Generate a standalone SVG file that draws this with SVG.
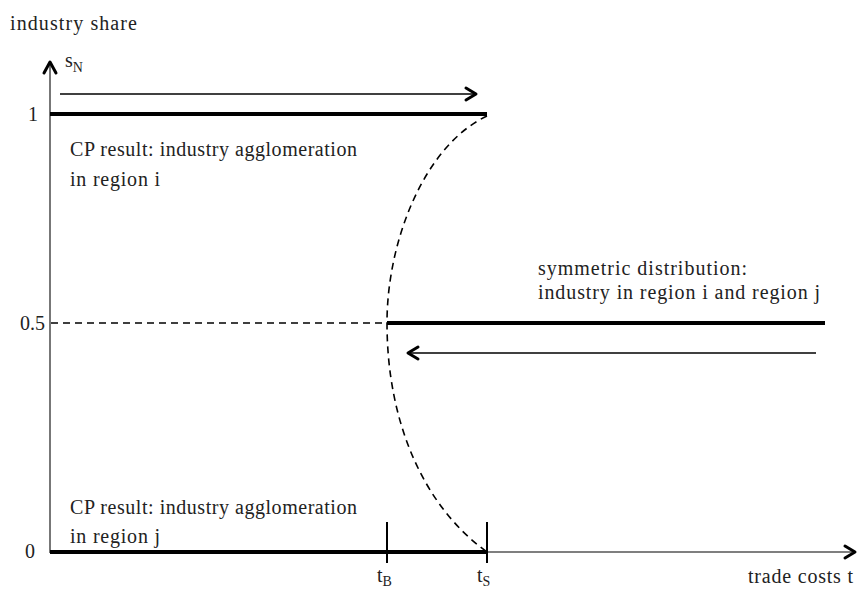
<svg xmlns="http://www.w3.org/2000/svg" width="858" height="590" viewBox="0 0 858 590">
<style>
text{font-family:"Liberation Serif","DejaVu Serif",serif;font-size:20px;fill:#222}
.sub{font-size:14px}
.axis{stroke:#555;stroke-width:1.6;fill:none}
.thick{stroke:#000;stroke-width:4;fill:none}
.thin{stroke:#000;stroke-width:1.6;fill:none}
.dash{stroke:#000;stroke-width:1.6;fill:none;stroke-dasharray:7,5}
.head{stroke:#000;stroke-width:3;fill:none;stroke-linecap:round;stroke-linejoin:round}
</style>
<rect width="858" height="590" fill="#fff"/>
<g id="axes">
<line class="axis" x1="50" y1="62" x2="50" y2="553"/>
<line class="axis" x1="50" y1="552" x2="852" y2="552"/>
<polyline class="head" points="44,73 50,62 56,73"/>
<polyline class="head" points="845,546 855,552 845,558"/>
<text x="10" y="30" textLength="127">industry share</text>
<text x="65" y="67">s<tspan class="sub" dy="5">N</tspan></text>
<text x="28" y="121">1</text>
<text x="20" y="330">0.5</text>
<text x="25" y="558">0</text>
<text x="748" y="583" textLength="105">trade costs t</text>
</g>
<g id="ticks">
<line class="thin" x1="387" y1="522" x2="387" y2="563" style="stroke-width:2"/>
<line class="thin" x1="487" y1="522" x2="487" y2="563" style="stroke-width:2"/>
<text x="377" y="582">t<tspan class="sub" dy="4">B</tspan></text>
<text x="477" y="582">t<tspan class="sub" dy="4">S</tspan></text>
</g>
<g id="top-branch">
<line class="thick" x1="50" y1="114" x2="487" y2="114"/>
<text x="70" y="156" textLength="287">CP result: industry agglomeration</text>
<text x="70" y="186" textLength="90">in region i</text>
</g>
<g id="symmetric-branch">
<line class="dash" x1="51" y1="323" x2="387" y2="323"/>
<line class="thick" x1="387" y1="323" x2="825" y2="323"/>
<text x="538" y="275" textLength="209">symmetric distribution:</text>
<text x="538" y="299" textLength="282">industry in region i and region j</text>
</g>
<g id="bottom-branch">
<line class="thick" x1="50" y1="552" x2="487" y2="552"/>
<text x="70" y="514" textLength="287">CP result: industry agglomeration</text>
<text x="70" y="543" textLength="90">in region j</text>
</g>
<g id="connectors">
<path class="dash" d="M487,116 C425,145 387,240 387,323 C387,420 422,505 487,552"/>
<line class="thin" x1="60" y1="94" x2="474" y2="94"/>
<polyline class="head" points="466,88 476,94 466,100"/>
<line class="thin" x1="410" y1="353" x2="816" y2="353"/>
<polyline class="head" points="418,347 408,353 418,359"/>
</g>
</svg>
